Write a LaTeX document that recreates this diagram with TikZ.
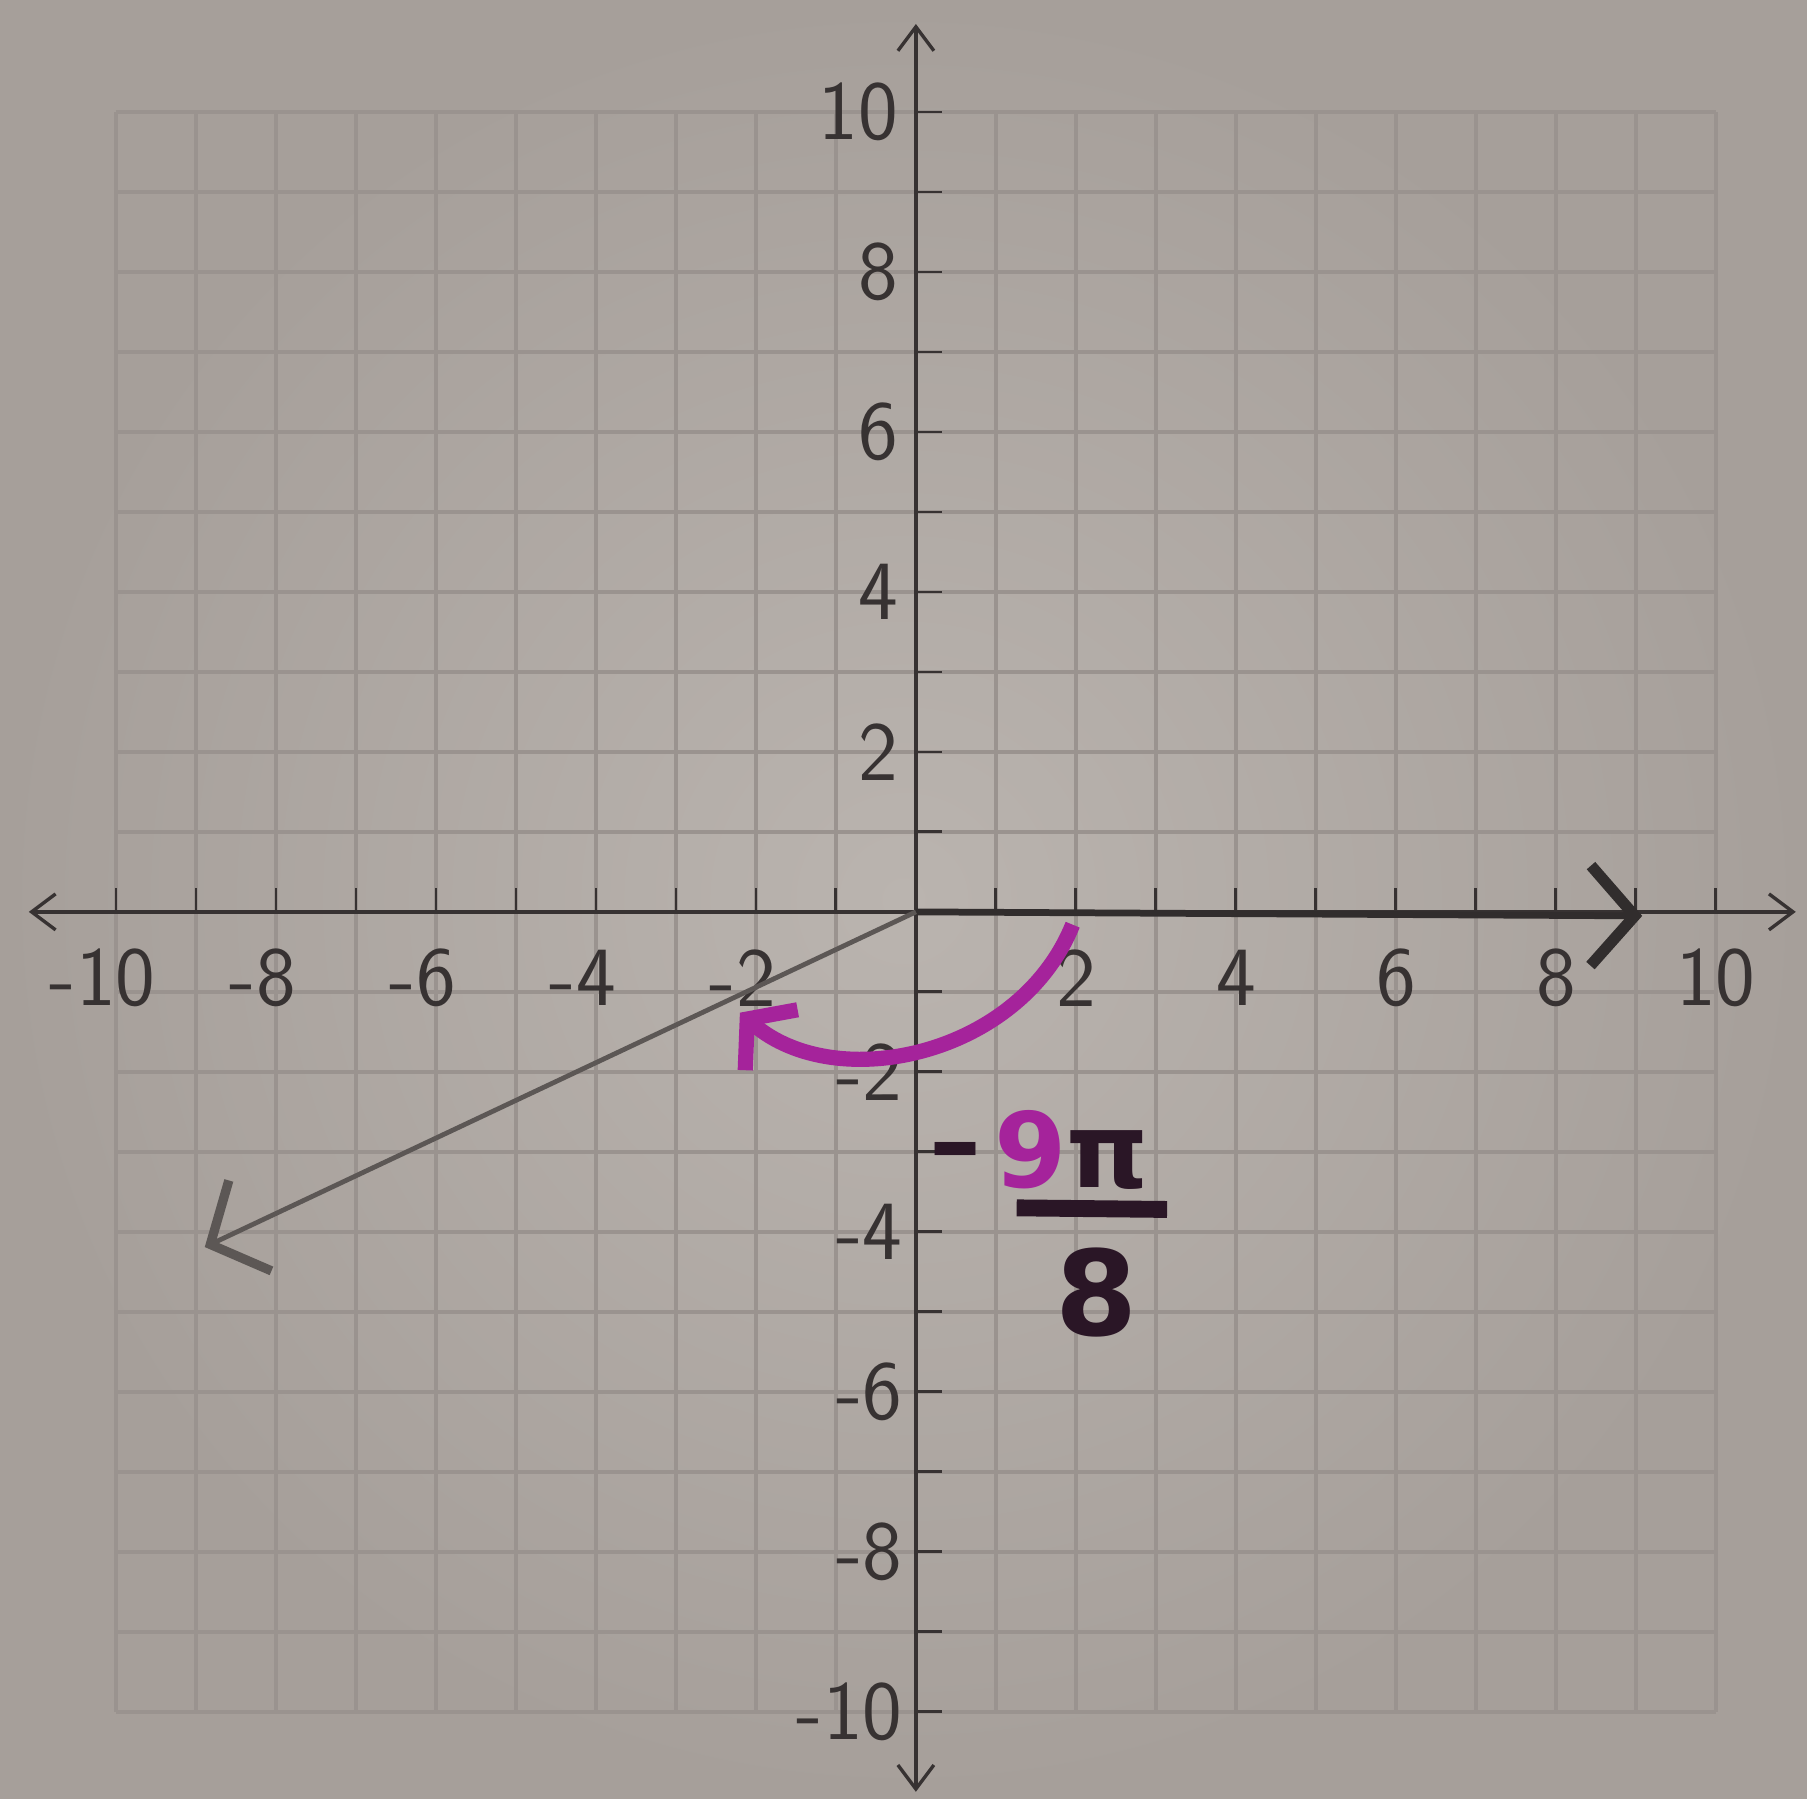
\documentclass[tikz,border=0pt]{standalone}
\usepackage{fontspec}
\newfontfamily\markerfont{DejaVu Sans}
\usetikzlibrary{arrows.meta}

\definecolor{paperlight}{RGB}{186,180,175}
\definecolor{paperdark}{RGB}{166,159,154}
\definecolor{gridline}{RGB}{154,147,143}
\definecolor{ink}{RGB}{55,50,50}
\definecolor{pencil}{RGB}{92,87,85}
\definecolor{marker}{RGB}{165,35,155}
\definecolor{darkink}{RGB}{42,22,38}

\begin{document}
\begin{tikzpicture}[
    axis/.style={ink, line width=1.2pt, {Straight Barb[length=0.3cm,width=0.45cm]}-{Straight Barb[length=0.3cm,width=0.45cm]}},
    tick/.style={ink, line width=1pt},
    ticklabel/.style={ink, inner sep=0pt, font=\sffamily\fontsize{30}{30}\selectfont},
    ray/.style={line width=1.7pt, -{Straight Barb[length=0.55cm,width=1.25cm,line width=1.6pt 1]}},
    turn/.style={marker, line width=5.4pt, -{Straight Barb[length=0.4cm,width=1.0cm]}},
    handnum/.style={inner sep=0pt, font=\markerfont\bfseries\fontsize{37}{37}\selectfont}
]
    % Paper
    \useasboundingbox (-11.45,-11.09) rectangle (11.14,11.4);
    \shade[inner color=paperlight, outer color=paperdark] (-11.45,-11.09) rectangle (11.14,11.4);
    \draw[gridline, line width=1.4pt] (-10,-10) grid (10,10);

    % Axes
    \coordinate (xl) at (-11.09,0);
    \coordinate (xr) at (11.0,0);
    \coordinate (yb) at (0,-11.0);
    \coordinate (yt) at (0,11.1);
    \draw[axis] (xl) -- (xr);
    \draw[axis] (yb) -- (yt);

    % Ticks
    \foreach \k in {-10,...,-1,1,2,...,10} {
        \draw[tick] (\k,0) -- (\k,0.3);
        \draw[tick] (0,\k) -- (0.33,\k);
    }

    % Labels
    \foreach \k in {2,4,...,10} {
        \node[ticklabel] (xp\k) at (\k,-0.83) {\k};
        \node[ticklabel] (xn\k) at (-\k,-0.83) {\llap{-}\k};
        \node[ticklabel, anchor=east] (yp\k) at (-0.22,\k) {\k};
        \node[ticklabel, anchor=east] (yn\k) at (-0.16,-\k) {-\k};
    }

    % Rays
    \coordinate (O) at (0,0);
    \coordinate (P) at (9.08,-0.05);
    \coordinate (T) at (-8.89,-4.19);
    \draw[ray, ink!90!black, line width=2.4pt] (O) -- (P);
    \draw[ray, pencil] (O) -- (T);

    % Rotation
    \coordinate (S) at (1.96,-0.16);
    \coordinate (E) at (-2.2,-1.26);
    \draw[turn] (S) .. controls (1.3,-1.8) and (-1.0,-2.3) .. (E);

    % Angle label
    \node[handnum, darkink] (neg) at (0.5,-3.1) {–};
    \node[handnum] (num) at (1.95,-2.97) {\textcolor{marker}{9}\textcolor{darkink}{π}};
    \coordinate (barl) at (1.26,-3.7);
    \coordinate (barr) at (3.14,-3.72);
    \draw[darkink, line width=6pt] (barl) -- (barr);
    \node[handnum, darkink, font=\markerfont\bfseries\fontsize{42}{42}\selectfont] (den) at (2.26,-4.76) {8};
\end{tikzpicture}
\end{document}
